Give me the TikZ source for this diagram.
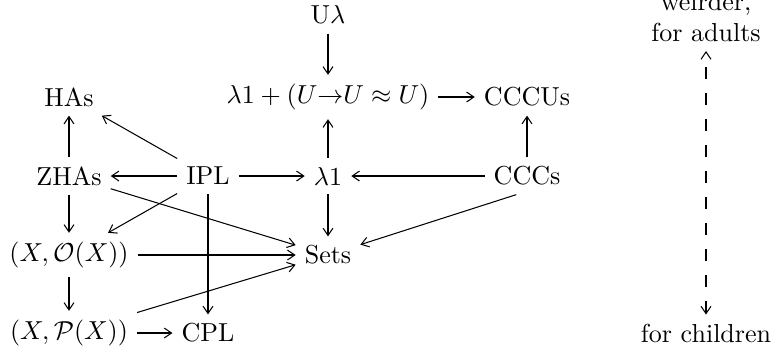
\documentclass[tikz,border=0pt]{standalone}
\usepackage{amsmath}
\usetikzlibrary{arrows.meta}
\begin{document}
\begin{tikzpicture}[x=0.3846pt,y=-0.3846pt,
  obj/.style={inner sep=3.33pt},
  tipx/.tip={Straight Barb[length=2.8pt,width=3.8pt,line width=0.4pt]},
  arr/.style={-tipx,line width=0.4pt},
  darr/.style={tipx-tipx,line width=0.4pt,dash pattern=on 4.5pt off 5.5pt}]
\useasboundingbox (0,0) rectangle (773,350);
\node[obj] (Ul) at (328,15) {U$\lambda$};
\node[obj] (top) at (328,97) {$\lambda1 + (U{\to}U \approx U)$};
\node[obj] (CCCUs) at (527,97) {CCCUs};
\node[obj] (HAs) at (69,97) {HAs};
\node[obj] (ZHAs) at (69,176) {ZHAs};
\node[obj] (IPL) at (208,176) {IPL};
\node[obj] (lam) at (328,176) {$\lambda1$};
\node[obj] (CCCs) at (527,176) {CCCs};
\node[obj] (XO) at (69,255) {$(X,\mathcal{O}(X))$};
\node[obj] (Sets) at (328,255) {Sets};
\node[obj] (XP) at (69,333) {$(X,\mathcal{P}(X))$};
\node[obj] (CPL) at (208,333) {CPL};
\node[obj,align=center,anchor=south] (adults) at (706,51) {weirder,\\for adults};
\node[obj] (children) at (706,333) {for children};

\draw[arr] (Ul) -- (top);
\draw[arr] (top) -- (CCCUs);
\draw[arr] (lam) -- (top);
\draw[arr] (CCCs) -- (CCCUs);
\draw[arr] (ZHAs) -- (HAs);
\draw[arr] (IPL) -- (HAs);
\draw[arr] (IPL) -- (ZHAs);
\draw[arr] (IPL) -- (lam);
\draw[arr] (CCCs) -- (lam);
\draw[arr] (ZHAs) -- (XO);
\draw[arr] (IPL) -- (XO);
\draw[arr] (ZHAs) -- (Sets);
\draw[arr] (lam) -- (Sets);
\draw[arr] (CCCs.240) -- (Sets);
\draw[arr] (XO) -- (Sets);
\draw[arr] (XP) -- (Sets);
\draw[arr] (IPL) -- (CPL);
\draw[arr] (XO) -- (XP);
\draw[arr] (XP) -- (CPL);
\draw[darr] (children) -- (adults);
\end{tikzpicture}
\end{document}
